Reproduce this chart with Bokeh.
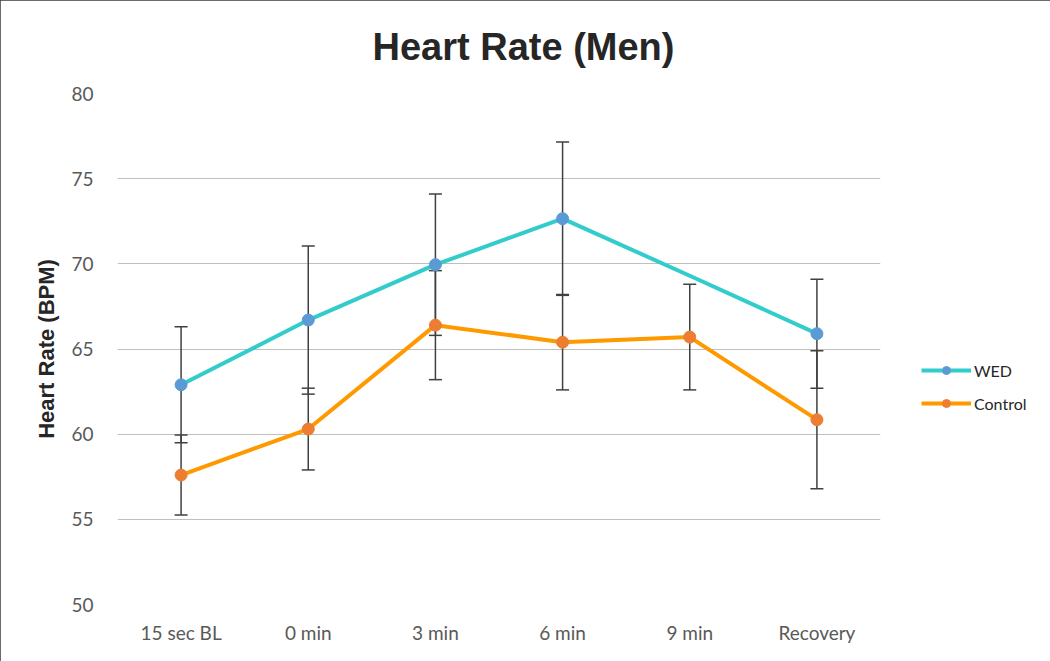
from bokeh.plotting import figure
from bokeh.models import (ColumnDataSource, Whisker, TeeHead, Legend, LegendItem,
                          FixedTicker, CDSView, BooleanFilter, Range1d, FactorRange)
from bokeh.embed import file_html
from bokeh.resources import INLINE

categories = ["15 sec BL", "0 min", "3 min", "6 min", "9 min", "Recovery"]
wed = [62.9, 66.7, 69.95, 72.65, 69.3, 65.9]
wed_err = [3.4, 4.35, 4.15, 4.5, None, 3.2]
wed_marker_shown = [True, True, True, True, False, True]
control = [57.6, 60.3, 66.4, 65.4, 65.7, 60.85]
control_err = [2.35, 2.4, 3.2, 2.8, 3.1, 4.05]
y_ticks = [50, 55, 60, 65, 70, 75, 80]

WED_LINE = "#33CCCC"
WED_MARK = "#5B9BD5"
CTL_LINE = "#FF9900"
CTL_MARK = "#ED7D31"
ERR = "#404040"
TXT = "#595959"

p = figure(frame_width=763, frame_height=511, x_range=FactorRange(*categories),
           y_range=Range1d(50, 80), output_backend="svg", toolbar_location=None,
           min_border_left=117, min_border_right=170, min_border_top=93,
           min_border_bottom=57)
p.outline_line_color = None
p.styles = {"outline": "2px solid #3a3a3a", "outline-offset": "-2px"}

p.title.text = "Heart Rate (Men)"
p.title.align = "left"
p.title.offset = 255
p.title.text_font = "Liberation Sans"
p.title.text_font_size = "38px"
p.title.text_font_style = "bold"
p.title.text_color = "#262626"
p.title.vertical_align = "top"
p.title.standoff = 48

p.xgrid.grid_line_color = None
p.ygrid.grid_line_color = "#BFBFBF"
p.ygrid.grid_line_width = 1
p.yaxis.ticker = FixedTicker(ticks=y_ticks)

for ax in (p.xaxis, p.yaxis):
    ax.axis_line_color = None
    ax.major_tick_line_color = None
    ax.minor_tick_line_color = None
    ax.major_label_text_font = "Lato"
    ax.major_label_text_font_size = "19px"
    ax.major_label_text_color = TXT
p.yaxis.major_label_standoff = 18
p.xaxis.major_label_standoff = 10
p.yaxis.axis_label = "Heart Rate (BPM)"
p.yaxis.axis_label_text_font = "Liberation Sans"
p.yaxis.axis_label_text_font_style = "bold"
p.yaxis.axis_label_text_font_size = "22px"
p.yaxis.axis_label_text_color = "#262626"
p.yaxis.axis_label_standoff = 9

# error bars
wsrc = ColumnDataSource(dict(
    x=[c for c, e in zip(categories, wed_err) if e is not None],
    lo=[v - e for v, e in zip(wed, wed_err) if e is not None],
    hi=[v + e for v, e in zip(wed, wed_err) if e is not None]))
csrc = ColumnDataSource(dict(
    x=categories,
    lo=[v - e for v, e in zip(control, control_err)],
    hi=[v + e for v, e in zip(control, control_err)]))
for src in (wsrc, csrc):
    w = Whisker(source=src, base="x", lower="lo", upper="hi", level="underlay",
                line_color=ERR, line_width=1.5,
                upper_head=TeeHead(size=13, line_color=ERR, line_width=1.5),
                lower_head=TeeHead(size=13, line_color=ERR, line_width=1.5))
    p.add_layout(w)

wline_src = ColumnDataSource(dict(x=categories, y=wed))
cline_src = ColumnDataSource(dict(x=categories, y=control))

wl = p.line("x", "y", source=wline_src, line_color=WED_LINE, line_width=4)
cl = p.line("x", "y", source=cline_src, line_color=CTL_LINE, line_width=4)
ws = p.scatter("x", "y", source=wline_src, size=12, fill_color=WED_MARK,
               line_color=WED_MARK, view=CDSView(filter=BooleanFilter(wed_marker_shown)))
cs = p.scatter("x", "y", source=cline_src, size=12, fill_color=CTL_MARK,
               line_color=CTL_MARK)

legend = Legend(items=[LegendItem(label="WED", renderers=[wl, ws]),
                       LegendItem(label="Control", renderers=[cl, cs])],
                location=(41, 191), glyph_width=50, glyph_height=20,
                label_height=20, spacing=13, padding=0, margin=0,
                label_standoff=3, border_line_color=None,
                background_fill_alpha=0,
                label_text_font="Lato",
                label_text_font_size="16px", label_text_color="#262626")
p.add_layout(legend, "right")

open("out.html", "w").write(file_html(p, INLINE))
